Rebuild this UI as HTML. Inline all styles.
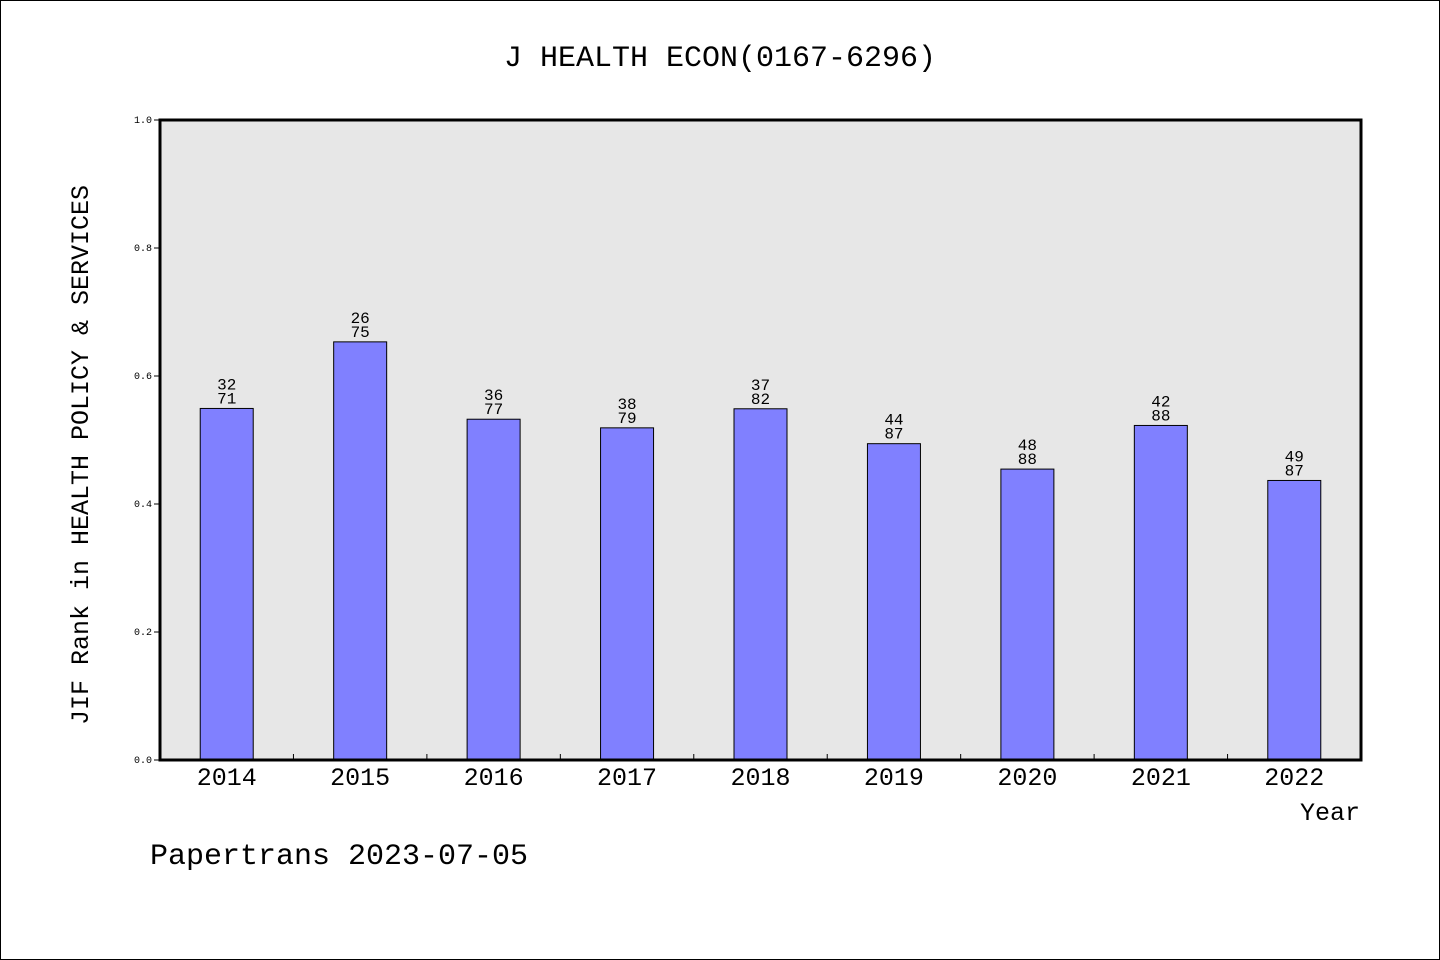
<!DOCTYPE html>
<html><head><meta charset="utf-8"><style>
html,body{margin:0;padding:0;background:#fff}
svg{display:block}
text{font-family:"WenQuanYi Zen Hei","Liberation Mono",monospace;fill:#000}
</style></head><body>
<svg id="chart" width="1440" height="960">
<rect x="0.5" y="0.5" width="1439" height="959" fill="#fff" stroke="#000"/>
<text x="720" y="66" font-size="30" text-anchor="middle">J HEALTH ECON(0167-6296)</text>
<rect x="160" y="120" width="1201" height="640" fill="#e7e7e7"/>
<g id="marks"></g>
<rect x="160" y="120" width="1201" height="640" fill="none" stroke="#000" stroke-width="3"/>
<text transform="translate(88,455) rotate(-90)" font-size="25" text-anchor="middle">JIF Rank in HEALTH POLICY &amp; SERVICES</text>
<text x="1360" y="820" font-size="25" text-anchor="end">Year</text>
<text x="150" y="864" font-size="30">Papertrans 2023-07-05</text>
</svg>
<script>
const years = ["2014","2015","2016","2017","2018","2019","2020","2021","2022"];
const ranks = [32,26,36,38,37,44,48,42,49];
const totals = [71,75,77,79,82,87,88,88,87];
const yTicks = [0.0,0.2,0.4,0.6,0.8,1.0];
const X0=160,X1=1361,Y0=760,Y1=120;
const bw=(X1-X0)/years.length;
const ys=v=>Y0-(v)*(Y0-Y1);
const xs=i=>X0+bw*(i+0.5);
const NS="http://www.w3.org/2000/svg";
const g=document.getElementById('marks');
function mk(t,a){const e=document.createElementNS(NS,t);for(const k in a)e.setAttribute(k,a[k]);g.appendChild(e);return e;}
yTicks.forEach(t=>{
  const l=mk('line',{x1:X0-6,x2:X0,y1:ys(t),y2:ys(t),stroke:'#000'});
  
  
  const tx=mk('text',{x:X0-8,y:ys(t)+3,'font-size':10,'text-anchor':'end'});
  tx.textContent=t.toFixed(1);
  
  
});
for(let i=1;i<years.length;i++){
  const l=mk('line',{x1:X0+bw*i,x2:X0+bw*i,y1:Y0,y2:Y0-6,stroke:'#000'});
  
  
}
years.forEach((y,i)=>{
  const v=1-ranks[i]/totals[i];
  const top=ys(v);
  const b=mk('rect',{x:xs(i)-26.5,y:top,width:53,height:Y0-top,fill:'#8080ff',stroke:'#000','stroke-width':1});
  
  
  const t1=mk('text',{x:xs(i),y:top-19,'font-size':16,'text-anchor':'middle'});
  t1.textContent=ranks[i];
  
  
  const t2=mk('text',{x:xs(i),y:top-5,'font-size':16,'text-anchor':'middle'});
  t2.textContent=totals[i];
  
  
  const xl=mk('text',{x:xs(i),y:785,'font-size':25,'text-anchor':'middle'});
  xl.textContent=y;
  
  
});
</script>
</body></html>
